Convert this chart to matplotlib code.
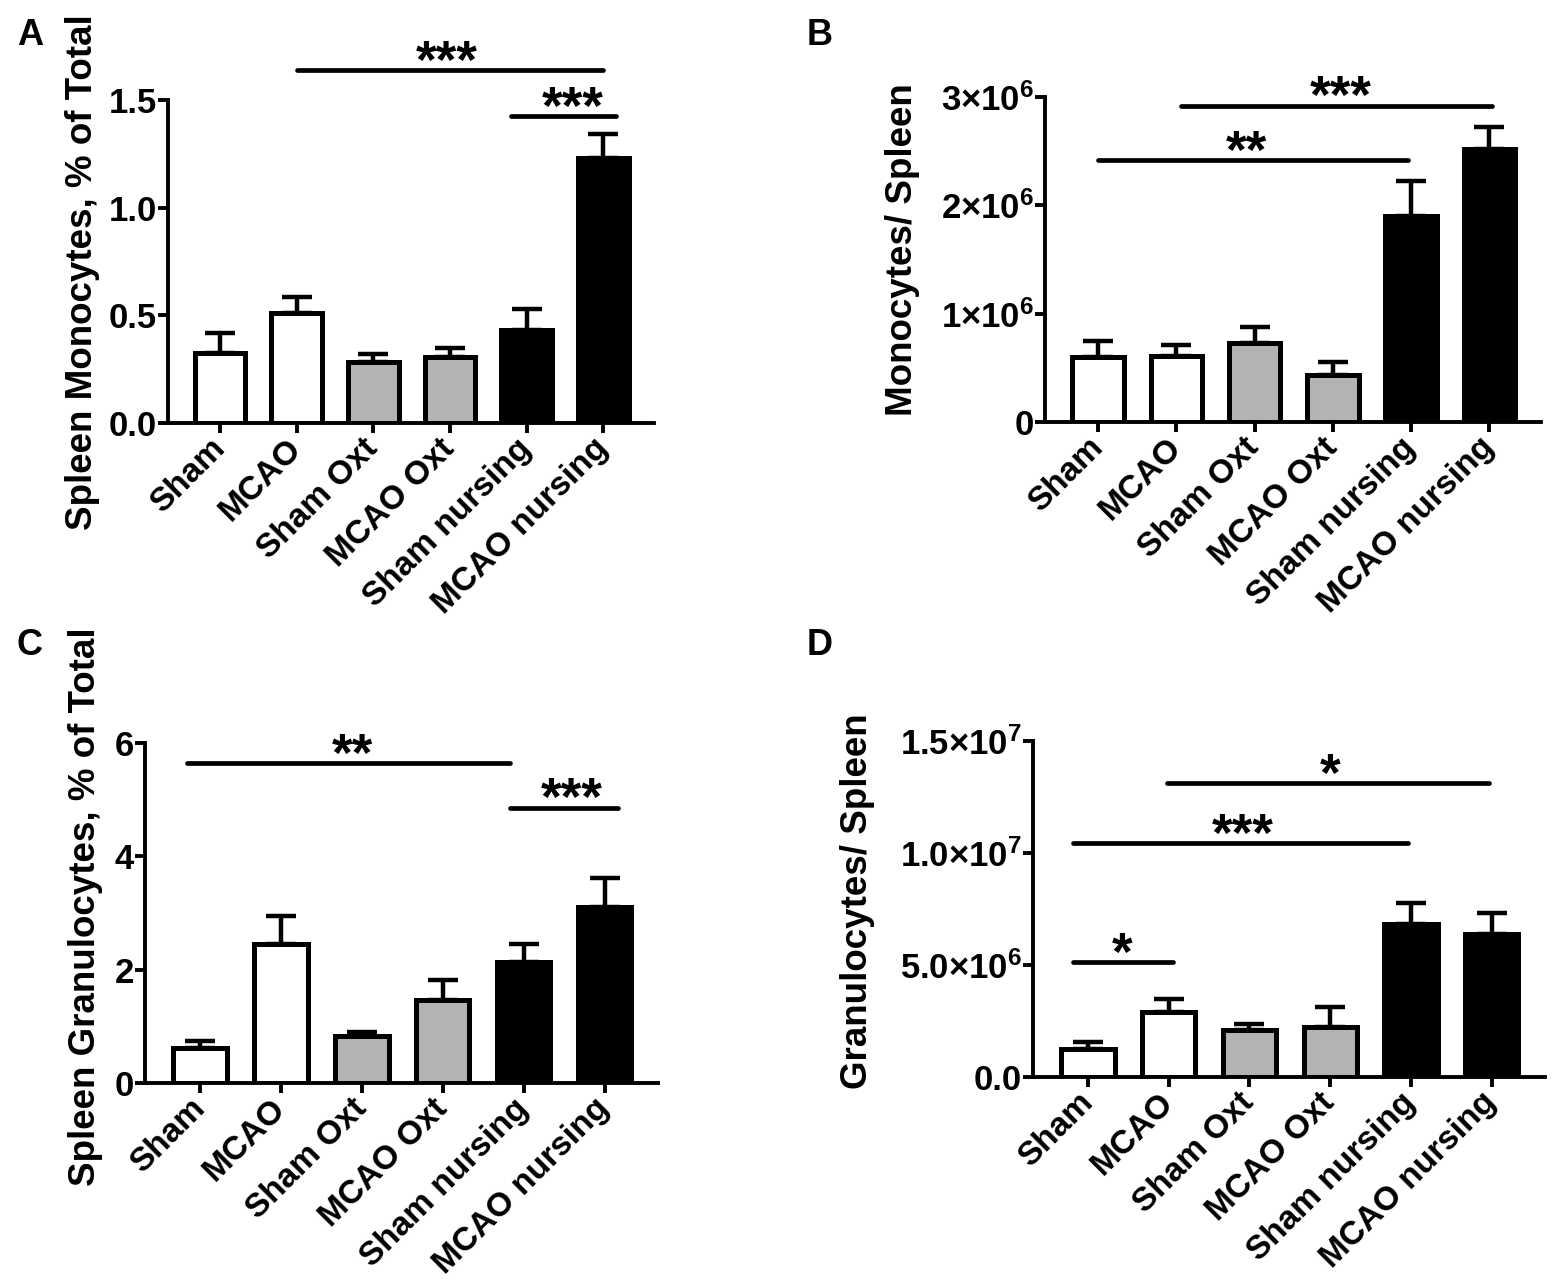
import matplotlib
matplotlib.use('Agg')
import matplotlib.pyplot as plt
import numpy as np

plt.rcParams['font.family'] = ['Liberation Sans', 'DejaVu Sans']
plt.rcParams['font.weight'] = 'bold'
plt.rcParams['mathtext.fontset'] = 'custom'
plt.rcParams['mathtext.bf'] = 'Liberation Sans:bold'
plt.rcParams['mathtext.rm'] = 'Liberation Sans:bold'

groups = ['Sham', 'MCAO', 'Sham Oxt', 'MCAO Oxt', 'Sham nursing', 'MCAO nursing']
fills = ['white', 'white', '#b3b3b3', '#b3b3b3', 'black', 'black']

# Panel A: Spleen monocytes, % of total
a_mean = [0.325, 0.51, 0.283, 0.306, 0.432, 1.23]
a_sem = [0.093, 0.075, 0.037, 0.042, 0.098, 0.11]
# Panel B: Monocytes per spleen
b_mean = [0.60e6, 0.61e6, 0.725e6, 0.43e6, 1.90e6, 2.52e6]
b_sem = [0.15e6, 0.10e6, 0.155e6, 0.12e6, 0.32e6, 0.20e6]
# Panel C: Spleen granulocytes, % of total
c_mean = [0.62, 2.45, 0.825, 1.47, 2.14, 3.11]
c_sem = [0.12, 0.50, 0.075, 0.35, 0.31, 0.50]
# Panel D: Granulocytes per spleen
d_mean = [1.23e6, 2.90e6, 2.11e6, 2.23e6, 6.84e6, 6.39e6]
d_sem = [0.33e6, 0.59e6, 0.27e6, 0.89e6, 0.92e6, 0.92e6]

a_ticks = [0, 0.5, 1.0, 1.5]
a_ticklabels = ['0.0', '0.5', '1.0', '1.5']
b_ticks = [0, 1e6, 2e6, 3e6]
b_ticklabels = ['0', r'$\mathbf{1×10^{6}}$', r'$\mathbf{2×10^{6}}$', r'$\mathbf{3×10^{6}}$']
c_ticks = [0, 2, 4, 6]
c_ticklabels = ['0', '2', '4', '6']
d_ticks = [0, 5e6, 1e7, 1.5e7]
d_ticklabels = ['0.0', r'$\mathbf{5.0×10^{6}}$', r'$\mathbf{1.0×10^{7}}$', r'$\mathbf{1.5×10^{7}}$']

# significance brackets: (x_start, x_end, y, label, label_x)
a_sig = [(1.0, 5.0, 1.64, '***', 2.95), (3.8, 5.16, 1.425, '***', 4.6)]
b_sig = [(0.0, 3.96, 2.42e6, '**', 1.9), (1.06, 5.03, 2.92e6, '***', 3.1)]
c_sig = [(-0.16, 3.83, 5.65, '**', 1.88), (3.83, 5.16, 4.86, '***', 4.6)]
d_sig = [(-0.19, 1.05, 5.13e6, '*', 0.42), (-0.19, 3.96, 10.43e6, '***', 1.92),
         (0.98, 4.97, 13.12e6, '*', 3.0)]

W, H = 1553, 1286
fig = plt.figure(figsize=(W / 100, H / 100), dpi=100)

def px_axes(x0, x1, y_top, y_bot):
    return fig.add_axes([x0 / W, 1 - y_bot / H, (x1 - x0) / W, (y_bot - y_top) / H])

panels = [
    dict(rect=(168, 654, 100, 423), mean=a_mean, sem=a_sem, ticks=a_ticks, tl=a_ticklabels,
         ylim=(0, 1.5), ylabel='Spleen Monocytes, % of Total', lab=(-0.140, 0.467),
         sig=a_sig, letter='A', lpos=(17, 18)),
    dict(rect=(1045, 1541, 97, 422), mean=b_mean, sem=b_sem, ticks=b_ticks, tl=b_ticklabels,
         ylim=(0, 3e6), ylabel='Monocytes/ Spleen', lab=(-0.252, 0.531),
         sig=b_sig, letter='B', lpos=(807, 18)),
    dict(rect=(145, 658, 743, 1083), mean=c_mean, sem=c_sem, ticks=c_ticks, tl=c_ticklabels,
         ylim=(0, 6), ylabel='Spleen Granulocytes, % of Total', lab=(-0.082, 0.52),
         sig=c_sig, letter='C', lpos=(17, 628)),
    dict(rect=(1033, 1545, 741, 1077), mean=d_mean, sem=d_sem, ticks=d_ticks, tl=d_ticklabels,
         ylim=(0, 1.5e7), ylabel='Granulocytes/ Spleen', lab=(-0.309, 0.524),
         sig=d_sig, letter='D', lpos=(807, 628)),
]

x = np.arange(len(groups))
for p in panels:
    x0, x1, yt, yb = p['rect']
    ax = px_axes(x0, x1, yt, yb)
    mean = np.array(p['mean'])
    sem = np.array(p['sem'])
    ax.errorbar(x, mean, yerr=[np.zeros_like(sem), sem], fmt='none', ecolor='black',
                elinewidth=3.2, capsize=11, capthick=3.2, zorder=2)
    ax.bar(x, mean, width=0.66, color=fills, edgecolor='black', linewidth=3.6, zorder=3)
    ax.set_xlim(-0.68, 5.66)
    ax.set_ylim(*p['ylim'])
    for s in ['top', 'right']:
        ax.spines[s].set_visible(False)
    for s in ['left', 'bottom']:
        ax.spines[s].set_linewidth(2.8)
        ax.spines[s].set_zorder(4)
    ax.set_xticks(x)
    ax.set_xticklabels(groups, rotation=45, ha='right', va='center', rotation_mode='anchor',
                       fontsize=24, fontweight='bold')
    ax.set_yticks(p['ticks'])
    ax.set_yticklabels(p['tl'], fontsize=25, fontweight='bold')
    ax.tick_params(axis='both', width=2.8, length=7, direction='out')
    ax.tick_params(axis='x', pad=8)
    ax.tick_params(axis='y', pad=1)
    ax.set_ylabel(p['ylabel'], fontsize=26.5, fontweight='bold')
    ax.yaxis.set_label_coords(*p['lab'])
    for (xs, xe, y, lab, lx) in p['sig']:
        ax.plot([xs, xe], [y, y], color='black', lw=3.4, solid_capstyle='round',
                clip_on=False, zorder=5)
        ax.annotate(lab, xy=(lx, y), xytext=(0, -5.5), textcoords='offset points',
                    ha='center', va='baseline', fontsize=38, fontweight='bold',
                    annotation_clip=False)
    fig.text(p['lpos'][0] / W, 1 - p['lpos'][1] / H, p['letter'], fontsize=26,
             fontweight='bold', ha='left', va='top')

fig.savefig('out.png', dpi=100)
